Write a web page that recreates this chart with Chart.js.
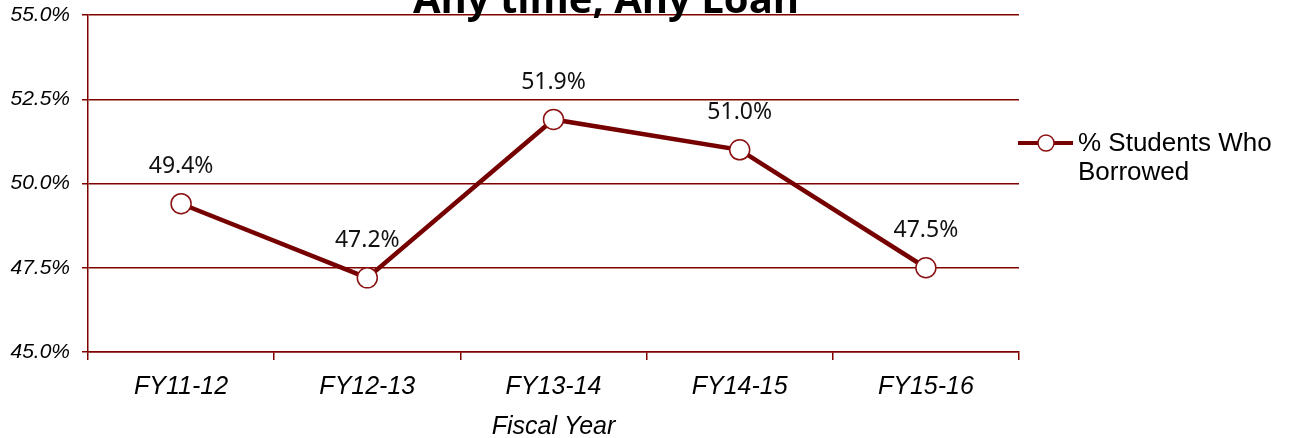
<!DOCTYPE html>
<html>
<head>
<meta charset="utf-8">
<script src="https://cdn.jsdelivr.net/npm/chart.js@4.4.0/dist/chart.umd.min.js"></script>
<style>
  html, body { margin: 0; padding: 0; background: #fff; }
  #wrap { width: 1291px; height: 438px; }
</style>
</head>
<body>
<div id="wrap"><canvas id="myChart" width="1291" height="438"></canvas></div>
<script>
const categories = ["FY11-12", "FY12-13", "FY13-14", "FY14-15", "FY15-16"];
const borrowed = [49.4, 47.2, 51.9, 51.0, 47.5];
const seriesName = "% Students Who Borrowed";
const chartTitle = "Any time, Any Loan";
const xTitle = "Fiscal Year";

const lineColor = "#760000";
const gridColor = "#800000";

// title is partly cut off at the top in the original
const titlePlugin = {
    id: "topTitle",
    afterDraw(chart) {
        const ctx = chart.ctx;
        ctx.save();
        ctx.font = "bold 40px 'Open Sans', sans-serif";
        ctx.fillStyle = "#000";
        ctx.textAlign = "center";
        ctx.textBaseline = "alphabetic";
        ctx.fillText(chartTitle, 606, 13);
        ctx.restore();
    }
};

const valueLabels = {
    id: "valueLabels",
    afterDatasetsDraw(chart) {
        const ctx = chart.ctx;
        const meta = chart.getDatasetMeta(0);
        ctx.save();
        ctx.font = "23px 'Noto Sans', sans-serif";
        ctx.fillStyle = "#111";
        ctx.textAlign = "center";
        ctx.textBaseline = "middle";
        meta.data.forEach((pt, i) => {
            ctx.fillText(borrowed[i].toFixed(1) + "%", pt.x, pt.y - 37);
        });
        ctx.restore();
    }
};

const sideLegend = {
    id: "sideLegend",
    afterDraw(chart) {
        const ctx = chart.ctx;
        const ds = chart.data.datasets[0];
        const y = 143;
        ctx.save();
        ctx.strokeStyle = ds.borderColor;
        ctx.lineWidth = 4;
        ctx.beginPath();
        ctx.moveTo(1018, y);
        ctx.lineTo(1073, y);
        ctx.stroke();
        ctx.beginPath();
        ctx.arc(1046, y, 8, 0, Math.PI * 2);
        ctx.fillStyle = "#fff";
        ctx.fill();
        ctx.lineWidth = 1.5;
        ctx.strokeStyle = ds.pointBorderColor;
        ctx.stroke();
        ctx.font = "26px 'Liberation Sans', Arial, sans-serif";
        ctx.fillStyle = "#000";
        ctx.textAlign = "left";
        ctx.textBaseline = "middle";
        const words = ds.label.split(" ");
        ctx.fillText(words.slice(0, 3).join(" "), 1078, 144);
        ctx.fillText(words.slice(3).join(" "), 1078, 173);
        ctx.restore();
    }
};

new Chart(document.getElementById("myChart"), {
    type: "line",
    data: {
        labels: categories,
        datasets: [{
            label: seriesName,
            data: borrowed,
            borderColor: lineColor,
            borderWidth: 4.5,
            pointRadius: 10,
            pointHoverRadius: 10,
            pointBackgroundColor: "#fff",
            pointBorderColor: "#8b1010",
            pointBorderWidth: 1.5,
            tension: 0
        }]
    },
    options: {
        responsive: false,
        animation: false,
        devicePixelRatio: 1,
        layout: { padding: { top: 15, right: 272, left: 0, bottom: 0 } },
        plugins: {
            legend: { display: false },
            tooltip: { enabled: false },
            title: { display: false }
        },
        scales: {
            x: {
                offset: true,
                grid: {
                    offset: true,
                    drawOnChartArea: false,
                    drawTicks: true,
                    tickLength: 8,
                    color: gridColor,
                    lineWidth: 1.5
                },
                border: { color: gridColor, width: 1.5 },
                ticks: {
                    color: "#000",
                    padding: 12,
                    font: { family: "'Liberation Sans', Arial, sans-serif", size: 25, style: "italic" }
                },
                title: {
                    display: true,
                    text: xTitle,
                    color: "#000",
                    padding: { top: 11, bottom: -4 },
                    font: { family: "'Liberation Sans', Arial, sans-serif", size: 25, style: "italic" }
                },
                afterFit(scale) { scale.height = 86; }
            },
            y: {
                min: 45,
                max: 55,
                ticks: {
                    stepSize: 2.5,
                    color: "#000",
                    padding: 12,
                    font: { family: "'Liberation Sans', Arial, sans-serif", size: 21, style: "italic" },
                    callback: (v) => v.toFixed(1) + "%"
                },
                grid: {
                    color: gridColor,
                    lineWidth: 1.5,
                    tickLength: 6
                },
                border: { color: gridColor, width: 1.5 },
                afterFit(scale) {
                    scale.width = 88;
                    scale.paddingTop = 0;
                    scale.paddingBottom = 0;
                }
            }
        }
    },
    plugins: [titlePlugin, valueLabels, sideLegend]
});
</script>
</body>
</html>
